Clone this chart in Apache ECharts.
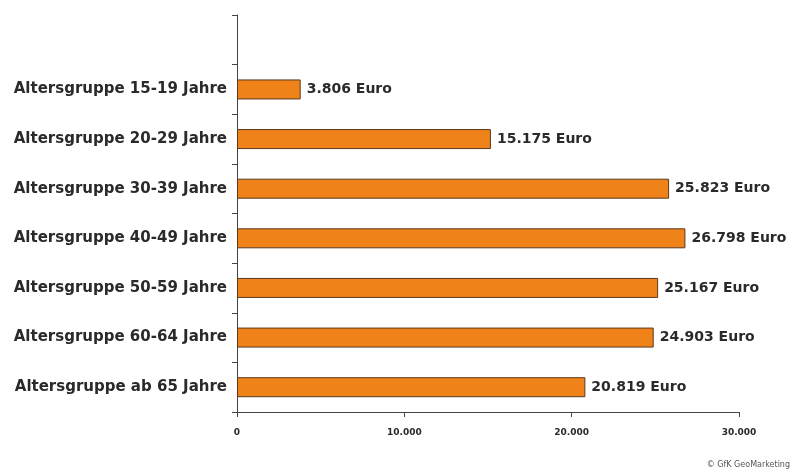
<!DOCTYPE html>
<html>
<head>
<meta charset="utf-8">
<script src="https://cdn.jsdelivr.net/npm/echarts@6/dist/echarts.min.js"></script>
<style>
html,body{margin:0;padding:0;background:#fff;}
#main{width:795px;height:476px;}
</style>
</head>
<body>
<div id="main"></div>
<script>
const categories = [
  'Altersgruppe 15-19 Jahre',
  'Altersgruppe 20-29 Jahre',
  'Altersgruppe 30-39 Jahre',
  'Altersgruppe 40-49 Jahre',
  'Altersgruppe 50-59 Jahre',
  'Altersgruppe 60-64 Jahre',
  'Altersgruppe ab 65 Jahre'
];
const values = [3806, 15175, 25823, 26798, 25167, 24903, 20819];
const xTicks = [0, 10000, 20000, 30000];
const unit = 'Euro';
const source = '© GfK GeoMarketing';

function fmt(n){ return String(n).replace(/\B(?=(\d{3})+(?!\d))/g, '.'); }

const chart = echarts.init(document.getElementById('main'));
chart.setOption({
  backgroundColor: '#fff',
  animation: false,
  grid: { left: 237, right: 56, top: 15, bottom: 64, containLabel: false },
  graphic: [{
    type: 'text', right: 5, top: 461,
    style: { text: source, font: '8px "DejaVu Sans"', fill: '#555' }
  }],
  xAxis: {
    type: 'value',
    min: xTicks[0], max: xTicks[xTicks.length - 1], interval: 10000,
    splitLine: { show: false },
    axisLine: { show: true, lineStyle: { color: '#444', width: 1 } },
    axisTick: { show: true, length: 5, lineStyle: { color: '#444' } },
    axisLabel: { margin: 16, color: '#2a2a2a', fontFamily: 'DejaVu Sans', fontWeight: 'bold', fontSize: 9,
      formatter: v => fmt(v) }
  },
  yAxis: {
    type: 'category',
    inverse: true,
    data: [''].concat(categories),
    axisLine: { show: true, lineStyle: { color: '#444', width: 1 } },
    axisTick: { show: true, length: 5, lineStyle: { color: '#444' } },
    axisLabel: { margin: 10, color: '#2a2a2a', fontFamily: 'DejaVu Sans', fontWeight: 'bold', fontSize: 15 }
  },
  series: [{
    type: 'bar',
    data: [null].concat(values),
    barWidth: 20,
    itemStyle: { color: '#EF8219', borderColor: '#5a3a1e', borderWidth: 1 },
    label: {
      show: true, position: 'right', distance: 6,
      color: '#2a2a2a', fontFamily: 'DejaVu Sans', fontWeight: 'bold', fontSize: 14,
      formatter: p => fmt(p.value) + ' ' + unit
    }
  }]
});
</script>
</body>
</html>
